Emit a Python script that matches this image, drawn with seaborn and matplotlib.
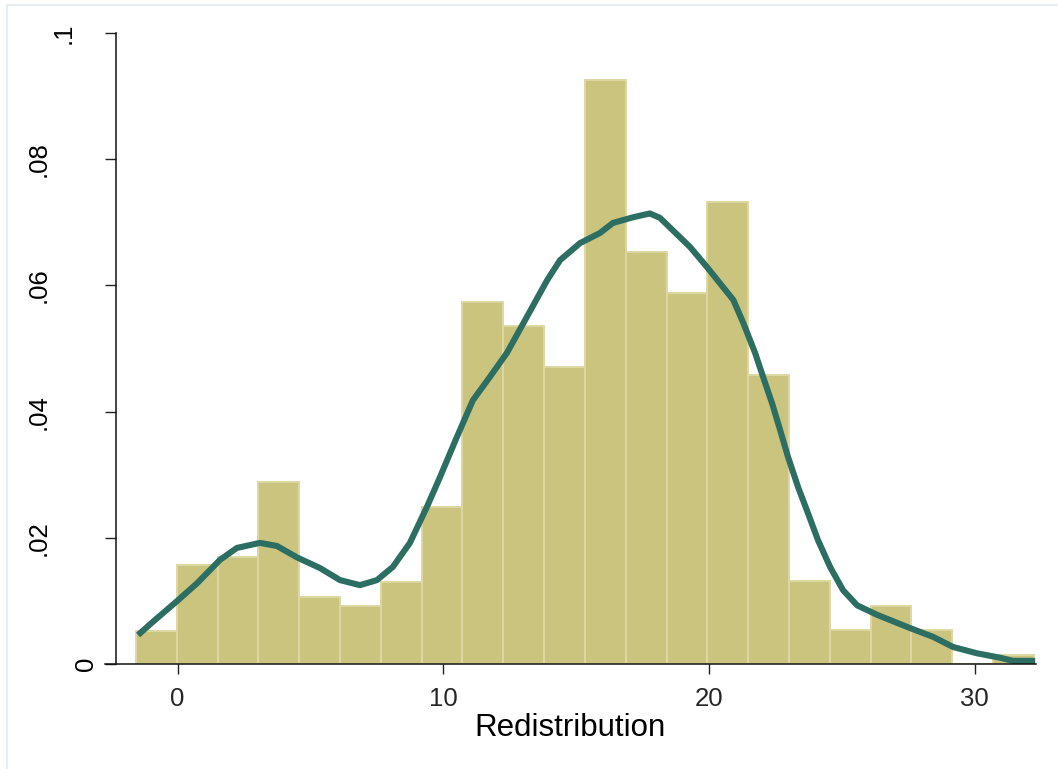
import matplotlib
matplotlib.use("Agg")
import matplotlib.pyplot as plt
import pandas as pd
import seaborn as sns

# histogram (density) heights, 22 bins of equal width
bin_left = -1.57
bin_width = 1.536
bar_heights = [0.0052, 0.0157, 0.0170, 0.0288, 0.0106, 0.0092, 0.0130, 0.0249,
               0.0573, 0.0535, 0.0471, 0.0925, 0.0653, 0.0588, 0.0732, 0.0458,
               0.0132, 0.0054, 0.0092, 0.0054, 0.0, 0.0014]

# kernel density curve
kde_x = [-1.49, -0.93, 0.01, 0.73, 1.59, 2.23, 3.10, 3.74, 4.49, 5.36, 6.11, 6.86,
         7.50, 8.10, 8.74, 9.38, 9.87, 10.51, 11.11, 11.75, 12.39, 13.14, 13.90,
         14.39, 15.14, 15.89, 16.38, 17.14, 17.77, 18.15, 18.64, 19.28, 19.92,
         20.91, 21.29, 21.73, 22.03, 22.37, 22.67, 22.97, 23.35, 23.72, 24.10,
         24.55, 25.04, 25.57, 26.32, 27.56, 28.43, 29.18, 30.08, 30.95, 31.44, 32.27]
kde_y = [0.0046, 0.0067, 0.0101, 0.0128, 0.0165, 0.0184, 0.0192, 0.0187, 0.0169,
         0.0152, 0.0133, 0.0125, 0.0133, 0.0154, 0.0192, 0.0249, 0.0296, 0.0360,
         0.0418, 0.0455, 0.0493, 0.0550, 0.0608, 0.0640, 0.0667, 0.0683, 0.0699,
         0.0708, 0.0714, 0.0707, 0.0687, 0.0661, 0.0629,
         0.0577, 0.0540, 0.0493, 0.0455, 0.0413, 0.0371, 0.0328, 0.0280, 0.0239,
         0.0196, 0.0154, 0.0117, 0.0093, 0.0078, 0.0057, 0.0043, 0.0027, 0.0017,
         0.0010, 0.0005, 0.0005]

x_ticks = [0, 10, 20, 30]
y_ticks = [0, 0.02, 0.04, 0.06, 0.08, 0.1]
y_tick_labels = ["0", ".02", ".04", ".06", ".08", ".1"]
x_label = "Redistribution"

sns.set_theme(style="white")
plt.rcParams["font.family"] = ["Liberation Sans", "DejaVu Sans"]

edges = [bin_left + bin_width * i for i in range(len(bar_heights) + 1)]
df = pd.DataFrame({
    "center": [(edges[i] + edges[i + 1]) / 2 for i in range(len(bar_heights))],
    "height": bar_heights,
})

fig = plt.figure(figsize=(10.58, 7.69), dpi=100)
ax = fig.add_axes([0.0992, 0.1365, 0.88, 0.8206])

sns.histplot(data=df, x="center", weights="height", bins=edges, stat="count",
             color="#CBC47F", alpha=1, edgecolor="#DDD7A2", linewidth=1.4, ax=ax)
sns.lineplot(x=kde_x, y=kde_y, sort=False, color="#2D6E62", linewidth=4.4,
             solid_capstyle="butt", ax=ax)

ax.set_xlim(-2.736, 32.30)
ax.set_ylim(0, 0.1)
ax.set_xticks(x_ticks)
ax.set_yticks(y_ticks)
ax.set_xticklabels([str(t) for t in x_ticks])
ax.tick_params(axis="x", labelsize=18.5, length=7.2, width=1, color="#222222",
               direction="out", pad=9, bottom=True)
ax.tick_params(axis="y", labelleft=False, length=7.6, width=1, color="#222222",
               direction="out", left=True)

for side in ["top", "right"]:
    ax.spines[side].set_visible(False)
for side in ["left", "bottom"]:
    ax.spines[side].set_color("#111111")
    ax.spines[side].set_linewidth(1.1)
ax.spines["left"].set_position(("axes", 0.0118))

# stata-style vertical y labels, placed by hand
label_x = {1: -0.0204, 2: -0.0446, 3: -0.0709}
for val, lab in zip(y_ticks, y_tick_labels):
    ax.text(label_x[len(lab)], val, lab, transform=ax.get_yaxis_transform(),
            rotation=90, ha="center", va="center", fontsize=18.5, color="black")

ax.set_xlabel(x_label, fontsize=22.5, labelpad=2, color="black")
ax.set_ylabel("")

# faint outer frame of the graph region
fig.add_artist(plt.Line2D([0.0066, 0.0066], [0, 0.9935], color="#E6EEF2", linewidth=1.6))
fig.add_artist(plt.Line2D([0.0066, 1], [0.9935, 0.9935], color="#E6EEF2", linewidth=1.6))

plt.savefig("out.png", dpi=100, facecolor="white")
